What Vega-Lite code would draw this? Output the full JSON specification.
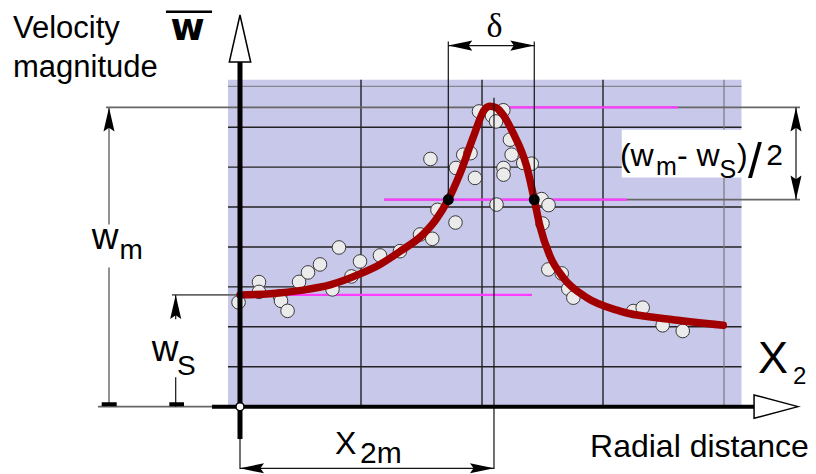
{
"$schema": "https://vega.github.io/schema/vega-lite/v6.json",
"width": 816, "height": 474,
"autosize": {"type": "fit", "contains": "padding"},
"padding": 0,
"background": "white",
"config": {"view": {"stroke": null}},
"datasets": {
"bg": [{"x": -0.0992, "x2": 4.1446, "y": 0, "y2": 8.1875}],
"box": [{"x": 3.155, "x2": 4.51, "y": 5.7375, "y2": 6.9375}],
"gridH": [{"x": -0.0992, "x2": 4.1446, "y": 1}, {"x": -0.0992, "x2": 4.1446, "y": 2}, {"x": -0.0992, "x2": 4.1446, "y": 3}, {"x": -0.0992, "x2": 4.1446, "y": 4}, {"x": -0.0992, "x2": 4.1446, "y": 5}, {"x": -0.0992, "x2": 4.1446, "y": 6}, {"x": -0.0992, "x2": 4.1446, "y": 7}],
"gridTop": [{"x": -0.0992, "x2": 4.1446, "y": 8.025}],
"gridV": [{"x": 1, "y": 0, "y2": 8.1875}, {"x": 2, "y": 0, "y2": 8.1875}, {"x": 3, "y": 0, "y2": 8.1875}],
"gridV4": [{"x": 4, "y": 0, "y2": 8.1875}],
"guideH": [{"x": -1.107, "x2": 4.628, "y": 7.495}, {"x": 1.19, "x2": 4.628, "y": 5.1875}, {"x": -0.562, "x2": 2.413, "y": 2.8}, {"x": -1.174, "x2": -0.231, "y": 0}],
"magenta": [{"x": 2.099, "x2": 3.62, "y": 7.495}, {"x": 1.19, "x2": 3.198, "y": 5.1875}, {"x": 0, "x2": 2.413, "y": 2.8}],
"dimV": [{"x": 1.7215, "y": 5.1875, "y2": 9.145}, {"x": 2.432, "y": 5.1875, "y2": 9.145}, {"x": 2.099, "y": -1.5625, "y2": 7.74}, {"x": 0, "y": -1.5625, "y2": -0.8}, {"x": 4.595, "y": 5.1875, "y2": 7.495}, {"x": -0.5314, "y": 0, "y2": 0.7375}, {"x": -0.5314, "y": 2.1875, "y2": 2.8}],
"dimVgray": [{"x": -1.0826, "y": 0, "y2": 3.4875}, {"x": -1.0826, "y": 4.5625, "y2": 7.495}],
"dimH": [{"x": 1.7215, "x2": 2.432, "y": 9.045}, {"x": 0, "x2": 2.099, "y": -1.545}],
"axisV": [{"x": 0, "y": -0.8125, "y2": 8.66}],
"axisH": [{"x": -0.231, "x2": 4.256, "y": 0}],
"ticks": [{"x": -1.143, "x2": -1.019, "y": 0.06}, {"x": -0.584, "x2": -0.463, "y": 0.06}],
"arrows": [{"x": -1.0826, "y": 7.495, "dir": "up"}, {"x": -0.5314, "y": 2.8, "dir": "up"}, {"x": 4.595, "y": 7.495, "dir": "up"}, {"x": 4.595, "y": 5.1875, "dir": "down"}, {"x": 1.7215, "y": 9.045, "dir": "left"}, {"x": 2.432, "y": 9.045, "dir": "right"}, {"x": 0, "y": -1.545, "dir": "left"}, {"x": 2.099, "y": -1.545, "dir": "right"}],
"axisHeads": [{"x": 0, "y": 9.8125, "dir": "up"}, {"x": 4.612, "y": 0, "dir": "right"}],
"origin": [{"x": 0, "y": 0}],
"overbar": [{"x": -0.612, "x2": -0.231, "y": 9.895}],
"curve": [{"x": 0, "y": 2.8}, {"x": 0.248, "y": 2.83}, {"x": 0.521, "y": 2.92}, {"x": 0.744, "y": 3.05}, {"x": 0.992, "y": 3.325}, {"x": 1.157, "y": 3.5625}, {"x": 1.322, "y": 3.8875}, {"x": 1.512, "y": 4.3125}, {"x": 1.62, "y": 4.6875}, {"x": 1.7215, "y": 5.1875}, {"x": 1.818, "y": 5.8375}, {"x": 1.926, "y": 6.7375}, {"x": 2.025, "y": 7.4625}, {"x": 2.066, "y": 7.525}, {"x": 2.116, "y": 7.49}, {"x": 2.174, "y": 7.3125}, {"x": 2.256, "y": 6.8625}, {"x": 2.369, "y": 6.02}, {"x": 2.432, "y": 5.1875}, {"x": 2.479, "y": 4.52}, {"x": 2.562, "y": 3.77}, {"x": 2.672, "y": 3.23}, {"x": 2.865, "y": 2.73}, {"x": 3.14, "y": 2.395}, {"x": 3.554, "y": 2.1875}, {"x": 3.994, "y": 2.0375}],
"points": [{"x": -0.012, "y": 2.6125}, {"x": 0.157, "y": 3.12}, {"x": 0.157, "y": 2.875}, {"x": 0.331, "y": 2.7625}, {"x": 0.339, "y": 2.65}, {"x": 0.393, "y": 2.4}, {"x": 0.488, "y": 3.125}, {"x": 0.562, "y": 3.3625}, {"x": 0.661, "y": 3.5625}, {"x": 0.764, "y": 2.9375}, {"x": 0.818, "y": 3.9875}, {"x": 0.921, "y": 3.2625}, {"x": 0.992, "y": 3.6375}, {"x": 1.157, "y": 3.7875}, {"x": 1.322, "y": 3.895}, {"x": 1.488, "y": 4.3125}, {"x": 1.589, "y": 4.205}, {"x": 1.574, "y": 6.205}, {"x": 1.632, "y": 4.93}, {"x": 1.781, "y": 4.6125}, {"x": 1.785, "y": 5.98}, {"x": 1.845, "y": 6.3125}, {"x": 1.905, "y": 6.35}, {"x": 1.942, "y": 5.73}, {"x": 1.975, "y": 7.395}, {"x": 2.083, "y": 7.2875}, {"x": 2.116, "y": 7.145}, {"x": 2.176, "y": 7.425}, {"x": 2.231, "y": 6.6875}, {"x": 2.245, "y": 6.3125}, {"x": 2.178, "y": 5.98}, {"x": 2.178, "y": 5.8125}, {"x": 2.341, "y": 6.105}, {"x": 2.411, "y": 6.0875}, {"x": 2.12, "y": 5.0625}, {"x": 2.493, "y": 5.2}, {"x": 2.55, "y": 5.05}, {"x": 2.5, "y": 4.5875}, {"x": 2.548, "y": 3.4375}, {"x": 2.659, "y": 3.3375}, {"x": 2.713, "y": 2.955}, {"x": 2.755, "y": 2.73}, {"x": 3.25, "y": 2.395}, {"x": 3.328, "y": 2.48}, {"x": 3.493, "y": 2.0375}, {"x": 3.659, "y": 1.895}],
"halfPts": [{"x": 1.7215, "y": 5.1875}, {"x": 2.432, "y": 5.1875}],
"t31": [{"x": -1.876, "y": 9.245, "t": "Velocity"}, {"x": -1.876, "y": 8.255, "t": "magnitude"}],
"t32b": [{"x": -0.575, "y": 9.1875, "t": "w"}],
"t36": [{"x": -1.225, "y": 3.9375, "t": "w"}, {"x": -0.73, "y": 1.145, "t": "w"}],
"t27": [{"x": -0.996, "y": 3.6875, "t": "m"}, {"x": -0.521, "y": 0.7875, "t": "S"}],
"t28": [{"x": 0.992, "y": -1.4, "t": "2m"}],
"tbox": [{"x": 3.14, "y": 6.02, "t": "(w"}, {"x": 3.612, "y": 6.02, "t": "- w"}, {"x": 4.107, "y": 6.02, "t": ")"}],
"tboxsub": [{"x": 3.438, "y": 5.8125, "t": "m"}, {"x": 3.962, "y": 5.73, "t": "S"}],
"t24": [{"x": 4.57, "y": 0.5625, "t": "2"}],
"tslash": [{"x": 4.198, "y": 5.73, "t": "/"}],
"ttwo": [{"x": 4.35, "y": 6.05, "t": "2"}],
"tdelta": [{"x": 2.103, "y": 9.27, "t": "δ"}],
"t32": [{"x": 0.785, "y": -1.1875, "t": "X"}, {"x": 2.893, "y": -1.27, "t": "Radial distance"}],
"t45": [{"x": 4.281, "y": 0.8375, "t": "X"}]
},
"encoding": {
"x": {"field": "x", "type": "quantitative", "scale": {"domain": [-1.98347, 4.76033], "nice": false, "zero": false}, "axis": null},
"y": {"field": "y", "type": "quantitative", "scale": {"domain": [-1.6625, 10.1875], "nice": false, "zero": false}, "axis": null}
},
"layer": [
{"data": {"name": "bg"}, "mark": {"type": "rect", "color": "#c8c8eb"}, "encoding": {"x2": {"field": "x2"}, "y2": {"field": "y2"}}},
{"data": {"name": "gridTop"}, "mark": {"type": "rule", "color": "#777777", "strokeWidth": 1}, "encoding": {"x2": {"field": "x2"}}},
{"data": {"name": "gridH"}, "mark": {"type": "rule", "color": "#222222", "strokeWidth": 1.4}, "encoding": {"x2": {"field": "x2"}}},
{"data": {"name": "gridV"}, "mark": {"type": "rule", "color": "#222222", "strokeWidth": 1.4}, "encoding": {"y2": {"field": "y2"}}},
{"data": {"name": "gridV4"}, "mark": {"type": "rule", "color": "#777777", "strokeWidth": 1.2}, "encoding": {"y2": {"field": "y2"}}},
{"data": {"name": "box"}, "mark": {"type": "rect", "color": "white"}, "encoding": {"x2": {"field": "x2"}, "y2": {"field": "y2"}}},
{"data": {"name": "guideH"}, "mark": {"type": "rule", "color": "#666666", "strokeWidth": 1.8}, "encoding": {"x2": {"field": "x2"}}},
{"data": {"name": "magenta"}, "mark": {"type": "rule", "color": "#ff3cff", "strokeWidth": 2.2}, "encoding": {"x2": {"field": "x2"}}},
{"data": {"name": "dimVgray"}, "mark": {"type": "rule", "color": "#777777", "strokeWidth": 1.6}, "encoding": {"y2": {"field": "y2"}}},
{"data": {"name": "points"}, "mark": {"type": "point", "shape": "circle", "size": 185, "filled": true, "fill": "#ebebeb", "stroke": "#3a3a3a", "strokeWidth": 1, "opacity": 1}},
{"data": {"name": "curve"}, "mark": {"type": "line", "color": "#a20000", "strokeWidth": 7.5, "interpolate": "monotone", "strokeCap": "round"}},
{"data": {"name": "halfPts"}, "mark": {"type": "point", "shape": "circle", "size": 120, "filled": true, "color": "black", "opacity": 1}},
{"data": {"name": "dimV"}, "mark": {"type": "rule", "color": "#111111", "strokeWidth": 1.2}, "encoding": {"y2": {"field": "y2"}}},
{"data": {"name": "dimH"}, "mark": {"type": "rule", "color": "#111111", "strokeWidth": 1.2}, "encoding": {"x2": {"field": "x2"}}},
{"data": {"name": "axisV"}, "mark": {"type": "rule", "color": "black", "strokeWidth": 5}, "encoding": {"y2": {"field": "y2"}}},
{"data": {"name": "axisH"}, "mark": {"type": "rule", "color": "black", "strokeWidth": 4}, "encoding": {"x2": {"field": "x2"}}},
{"data": {"name": "ticks"}, "mark": {"type": "rule", "color": "black", "strokeWidth": 4}, "encoding": {"x2": {"field": "x2"}}},
{"data": {"name": "overbar"}, "mark": {"type": "rule", "color": "black", "strokeWidth": 2.5}, "encoding": {"x2": {"field": "x2"}}},
{"data": {"name": "arrows"}, "transform": [{"filter": "datum.dir == 'up'"}], "mark": {"type": "point", "shape": "M0,0L0.46,2L0,1.7L-0.46,2Z", "size": 576, "filled": true, "color": "black", "opacity": 1}},
{"data": {"name": "arrows"}, "transform": [{"filter": "datum.dir == 'down'"}], "mark": {"type": "point", "shape": "M0,0L0.46,-2L0,-1.7L-0.46,-2Z", "size": 576, "filled": true, "color": "black", "opacity": 1}},
{"data": {"name": "arrows"}, "transform": [{"filter": "datum.dir == 'left'"}], "mark": {"type": "point", "shape": "M0,0L2,0.42L1.7,0L2,-0.42Z", "size": 576, "filled": true, "color": "black", "opacity": 1}},
{"data": {"name": "arrows"}, "transform": [{"filter": "datum.dir == 'right'"}], "mark": {"type": "point", "shape": "M0,0L-2,0.42L-1.7,0L-2,-0.42Z", "size": 576, "filled": true, "color": "black", "opacity": 1}},
{"data": {"name": "axisHeads"}, "transform": [{"filter": "datum.dir == 'up'"}], "mark": {"type": "point", "shape": "M0,0L0.455,2L-0.455,2Z", "size": 2209, "filled": true, "fill": "white", "stroke": "black", "strokeWidth": 1.5, "opacity": 1}},
{"data": {"name": "axisHeads"}, "transform": [{"filter": "datum.dir == 'right'"}], "mark": {"type": "point", "shape": "M0,0L-1.872,0.498L-1.872,-0.498Z", "size": 2209, "filled": true, "fill": "white", "stroke": "black", "strokeWidth": 1.5, "opacity": 1}},
{"data": {"name": "origin"}, "mark": {"type": "point", "shape": "circle", "size": 64, "filled": true, "fill": "white", "stroke": "black", "strokeWidth": 1.5, "opacity": 1}},
{"data": {"name": "t31"}, "mark": {"type": "text", "align": "left", "baseline": "alphabetic", "font": "Liberation Sans", "fontSize": 31, "color": "black"}, "encoding": {"text": {"field": "t"}}},
{"data": {"name": "t32b"}, "mark": {"type": "text", "align": "left", "baseline": "alphabetic", "font": "DejaVu Sans", "fontWeight": "bold", "fontSize": 37, "color": "black"}, "encoding": {"text": {"field": "t"}}},
{"data": {"name": "t36"}, "mark": {"type": "text", "align": "left", "baseline": "alphabetic", "font": "Liberation Sans", "fontSize": 37, "color": "black"}, "encoding": {"text": {"field": "t"}}},
{"data": {"name": "t27"}, "mark": {"type": "text", "align": "left", "baseline": "alphabetic", "font": "Liberation Sans", "fontSize": 28, "color": "black"}, "encoding": {"text": {"field": "t"}}},
{"data": {"name": "t28"}, "mark": {"type": "text", "align": "left", "baseline": "alphabetic", "font": "Liberation Sans", "fontSize": 30, "color": "black"}, "encoding": {"text": {"field": "t"}}},
{"data": {"name": "tbox"}, "mark": {"type": "text", "align": "left", "baseline": "alphabetic", "font": "Liberation Sans", "fontSize": 32, "color": "black"}, "encoding": {"text": {"field": "t"}}},
{"data": {"name": "tboxsub"}, "mark": {"type": "text", "align": "left", "baseline": "alphabetic", "font": "Liberation Sans", "fontSize": 25, "color": "black"}, "encoding": {"text": {"field": "t"}}},
{"data": {"name": "t24"}, "mark": {"type": "text", "align": "left", "baseline": "alphabetic", "font": "Liberation Sans", "fontSize": 24, "color": "black"}, "encoding": {"text": {"field": "t"}}},
{"data": {"name": "tslash"}, "mark": {"type": "text", "align": "left", "baseline": "alphabetic", "font": "Liberation Sans", "fontSize": 50, "color": "black"}, "encoding": {"text": {"field": "t"}}},
{"data": {"name": "ttwo"}, "mark": {"type": "text", "align": "left", "baseline": "alphabetic", "font": "Liberation Sans", "fontSize": 30, "color": "black"}, "encoding": {"text": {"field": "t"}}},
{"data": {"name": "tdelta"}, "mark": {"type": "text", "align": "center", "baseline": "alphabetic", "font": "Liberation Serif", "fontSize": 34, "color": "black"}, "encoding": {"text": {"field": "t"}}},
{"data": {"name": "t32"}, "mark": {"type": "text", "align": "left", "baseline": "alphabetic", "font": "Liberation Sans", "fontSize": 32, "color": "black"}, "encoding": {"text": {"field": "t"}}},
{"data": {"name": "t45"}, "mark": {"type": "text", "align": "left", "baseline": "alphabetic", "font": "Liberation Sans", "fontSize": 45, "color": "black"}, "encoding": {"text": {"field": "t"}}}
]
}
